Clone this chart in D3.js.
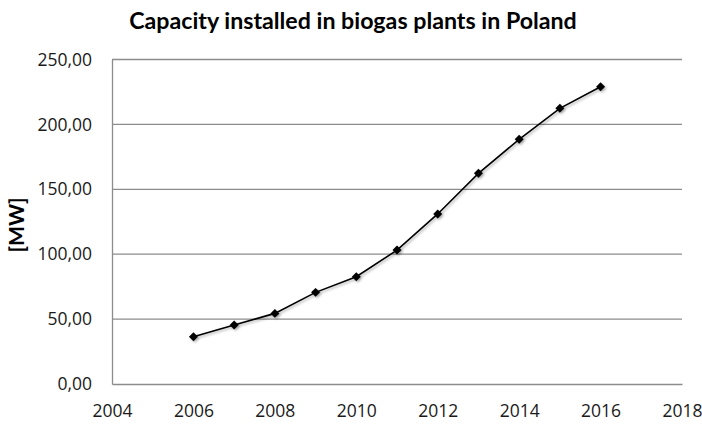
<!DOCTYPE html>
<html><head><meta charset="utf-8">
<script src="https://cdn.jsdelivr.net/npm/d3@7"></script>
<style>body{margin:0;background:#fff}svg{display:block}</style>
</head><body>
<svg id="c" width="702" height="424"></svg>
<script>
const years = [2006, 2007, 2008, 2009, 2010, 2011, 2012, 2013, 2014, 2015, 2016];
const capacityMW = [36.4, 45.4, 54.4, 70.6, 82.6, 103.2, 131.0, 162.3, 188.5, 212.4, 229.0];
const xTicks = [2004, 2006, 2008, 2010, 2012, 2014, 2016, 2018];
const yTicks = [0, 50, 100, 150, 200, 250];
const title = "Capacity installed in biogas plants in Poland";
const yLabel = "[MW]";

const svg = d3.select("#c");
const m = {l:112, r:682, t:59.5, b:384};
const x = d3.scaleLinear().domain([2004, 2018]).range([m.l, m.r]);
const y = d3.scaleLinear().domain([0, 250]).range([m.b, m.t]);
const tickFont = "'Open Sans', sans-serif";
const titleFont = "Lato, 'Open Sans', sans-serif";

const defs = svg.append("defs");
const f = defs.append("filter").attr("id","sh").attr("x","-50%").attr("y","-50%").attr("width","200%").attr("height","200%");
f.append("feDropShadow").attr("dx",1.5).attr("dy",1.5).attr("stdDeviation",1.2).attr("flood-color","#000").attr("flood-opacity",0.3);

// gridlines
svg.append("g").selectAll("line").data(yTicks.filter(d=>d>0)).join("line")
  .attr("x1", m.l).attr("x2", m.r).attr("y1", d=>y(d)).attr("y2", d=>y(d))
  .attr("stroke", "#8c8c8c").attr("stroke-width", 1.3);

// axes
const yAxis = svg.append("g").attr("transform", `translate(${m.l},0)`)
  .call(d3.axisLeft(y).tickValues(yTicks).tickSize(0).tickPadding(20)
    .tickFormat(d => d3.format(".2f")(d).replace(".", ",")));
yAxis.select(".domain").attr("stroke", "#8c8c8c").attr("stroke-width", 1.3);
yAxis.selectAll("text").attr("font-family", tickFont).attr("font-size", 17.5).attr("fill", "#1a1a1a");

const xAxis = svg.append("g").attr("transform", `translate(0,${m.b})`)
  .call(d3.axisBottom(x).tickValues(xTicks).tickSize(0).tickPadding(21).tickFormat(d3.format("d")));
xAxis.select(".domain").attr("stroke", "#8c8c8c").attr("stroke-width", 1.3);
xAxis.selectAll("text").attr("font-family", tickFont).attr("font-size", 17.5).attr("fill", "#1a1a1a");

// line
const data = years.map((yr, i) => ({yr, v: capacityMW[i]}));
svg.append("path").datum(data)
  .attr("fill", "none").attr("stroke", "#000").attr("stroke-width", 1.6)
  .attr("filter", "url(#sh)")
  .attr("d", d3.line().x(d=>x(d.yr)).y(d=>y(d.v)));

svg.append("g").attr("filter", "url(#sh)").selectAll("path").data(data).join("path")
  .attr("transform", d=>`translate(${x(d.yr)},${y(d.v)}) rotate(45)`)
  .attr("d", d3.symbol(d3.symbolSquare, 40))
  .attr("fill", "#000");

// title
svg.append("text").attr("x", 353).attr("y", 28.5).attr("text-anchor", "middle")
  .attr("font-family", titleFont).attr("font-weight", "bold").attr("font-size", 23.2)
  .attr("fill", "#000").text(title);

// y label
svg.append("text").attr("transform", "translate(24,225) rotate(-90)").attr("text-anchor", "middle")
  .attr("font-family", titleFont).attr("font-weight", "bold").attr("font-size", 21)
  .attr("fill", "#000").text(yLabel);
</script>
</body></html>
